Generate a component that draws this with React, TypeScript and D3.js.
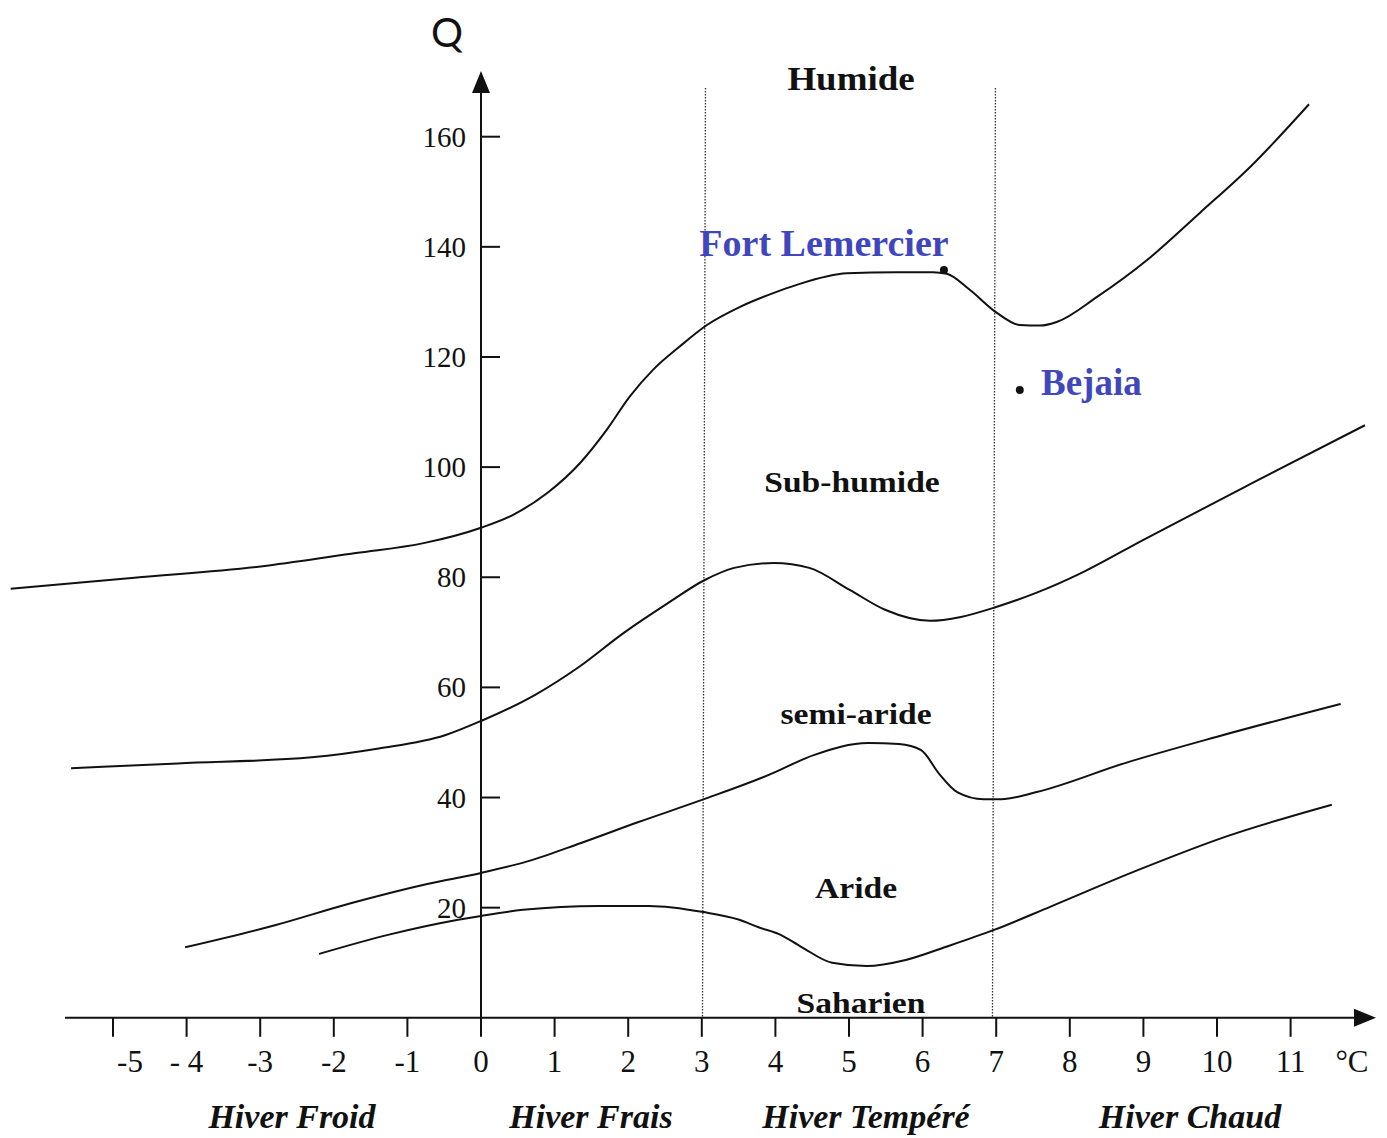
import React from "react";
import * as d3 from "d3";

// ---- Data (T = mean min temp of coldest month °C, Q = Emberger quotient) ----
const humideLimit: [number, number][] = [
  [-6.39, 77.9], [-4.71, 79.9], [-2.91, 82.1], [-1.7, 84.4], [-0.78, 86.2], [0, 89.0],
  [0.43, 91.3], [0.9, 95.3], [1.35, 100.8], [1.71, 106.8], [2.02, 112.8], [2.34, 117.7],
  [2.7, 121.9], [3.07, 125.8], [3.52, 129.1], [3.97, 131.6], [4.29, 133.1], [4.97, 135.2],
  [5.65, 135.4], [6.14, 135.4], [6.33, 135.1], [6.64, 132.2], [7.01, 128.0], [7.32, 125.8],
  [7.6, 125.7], [7.83, 126.4], [8.37, 130.9], [9.05, 137.6], [9.77, 146.2], [10.45, 154.5],
  [11.25, 165.9],
];
const subHumideLimit: [number, number][] = [
  [-5.57, 45.3], [-4.12, 46.2], [-2.3, 47.3], [-1.39, 48.9], [-0.49, 51.3], [0, 53.9],
  [0.73, 58.6], [1.33, 63.7], [1.94, 69.9], [2.54, 75.3], [3.04, 79.5], [3.44, 81.7],
  [3.98, 82.6], [4.46, 81.7], [5.01, 77.7], [5.49, 74.1], [6.1, 72.1], [6.52, 72.8],
  [7.0, 74.6], [7.55, 77.2], [8.16, 80.8], [9.0, 86.8], [10.45, 96.9], [12.01, 107.6],
];
const semiArideLimit: [number, number][] = [
  [-4.02, 12.8], [-2.8, 16.8], [-1.77, 20.8], [-0.73, 24.3], [0, 26.3], [0.63, 28.4],
  [1.35, 31.7], [2.13, 35.5], [3.03, 39.7], [3.91, 44.1], [4.52, 47.7], [5.26, 49.9],
  [5.68, 49.7], [5.98, 48.6], [6.22, 44.4], [6.47, 41.0], [6.83, 39.7], [7.07, 39.7],
  [7.55, 41.0], [8.76, 46.3], [9.99, 51.0], [11.68, 57.0],
];
const arideLimit: [number, number][] = [
  [-2.2, 11.6], [-1.25, 15.1], [-0.31, 17.8], [0, 18.5], [0.57, 19.6], [1.6, 20.3],
  [2.28, 20.3], [3.02, 19.2], [3.51, 17.8], [3.78, 16.4], [4.05, 15.2], [4.35, 12.9],
  [4.77, 10.0], [5.24, 9.4], [5.77, 10.5], [6.32, 12.9], [6.98, 16.0], [7.74, 20.2],
  [8.94, 26.9], [10.12, 32.9], [11.56, 38.7],
];
const limits = [humideLimit, subHumideLimit, semiArideLimit, arideLimit];

const winterBounds = [3.05, 6.99];
const xTicks = [-5, -4, -3, -2, -1, 0, 1, 2, 3, 4, 5, 6, 7, 8, 9, 10, 11];
const xTickLabels = ["-5", "- 4", "-3", "-2", "-1", "0", "1", "2", "3", "4", "5", "6", "7", "8", "9", "10", "11"];
const yTicks = [20, 40, 60, 80, 100, 120, 140, 160];

const zoneNames = ["Humide", "Sub-humide", "semi-aride", "Aride", "Saharien"];
const winterNames = ["Hiver Froid", "Hiver Frais", "Hiver Tempéré", "Hiver Chaud"];
const stationNames = ["Fort Lemercier", "Bejaia"];
const stationT = [6.29, 7.32];
const stationQ = [135.8, 114.0];

// ---- Layout ----
const W = 1387;
const H = 1138;
const x = d3.scaleLinear().domain([-5, 11]).range([113, 1290.6]);
const y = d3.scaleLinear().domain([0, 160]).range([1017.8, 136.7]);

const zonePos = [
  { cx: 851, by: 90, size: 33 },
  { cx: 852, by: 492, size: 30 },
  { cx: 856, by: 724, size: 30 },
  { cx: 856, by: 898, size: 30 },
  { cx: 861, by: 1013, size: 30 },
];
const winterPos = [292, 591, 866, 1190];
const stationLabelPos = [
  { x: 824, y: 256, anchor: "middle" },
  { x: 1041, y: 395, anchor: "start" },
];

const serif = "'Liberation Serif', 'Times New Roman', serif";
const blue = "#4047bd";

export default function App() {
  const line = d3
    .line<[number, number]>()
    .x((d) => x(d[0]))
    .y((d) => y(d[1]))
    .curve(d3.curveMonotoneX);

  const x0 = x(0);
  const yAxisY = y(0);

  return (
    <svg
      width={W}
      height={H}
      style={{ position: "absolute", left: 0, top: 0, background: "#fff" }}
      fontFamily={serif}
    >
      <rect width={W} height={H} fill="#fff" />

      {/* dotted winter boundaries */}
      {winterBounds.map((t, i) => (
        <line
          key={"wb" + i}
          x1={x(t)}
          x2={x(t) - 3}
          y1={88}
          y2={yAxisY}
          stroke="#333"
          strokeWidth={1.3}
          strokeDasharray="1.5,1.5"
        />
      ))}

      {/* x axis */}
      <line x1={65} x2={1360} y1={yAxisY} y2={yAxisY} stroke="#111" strokeWidth={2} />
      <path d={`M1376,${yAxisY} L1354,${yAxisY - 9} L1354,${yAxisY + 9} Z`} fill="#111" />
      {xTicks.map((t, i) => (
        <g key={"xt" + i}>
          <line x1={x(t)} x2={x(t)} y1={yAxisY} y2={yAxisY + 19} stroke="#111" strokeWidth={2} />
          <text
            x={x(t) + (t === -5 ? 17 : 0)}
            y={1072}
            fontSize={31}
            textAnchor="middle"
            fill="#111"
          >
            {xTickLabels[i]}
          </text>
        </g>
      ))}
      <text x={1352} y={1072} fontSize={31} textAnchor="middle" fill="#111">
        °C
      </text>

      {/* y axis */}
      <line x1={x0} x2={x0} y1={yAxisY + 18} y2={90} stroke="#111" strokeWidth={2} />
      <path d={`M${x0},71 L${x0 - 9},93 L${x0 + 9},93 Z`} fill="#111" />
      {yTicks.map((q) => (
        <g key={"yt" + q}>
          <line x1={x0} x2={x0 + 19} y1={y(q)} y2={y(q)} stroke="#111" strokeWidth={2} />
          <text x={466} y={y(q) + 10} fontSize={29} textAnchor="end" fill="#111">
            {q}
          </text>
        </g>
      ))}
      <text x={447} y={47} fontSize={40} textAnchor="middle" fontFamily="Lato, 'Open Sans', sans-serif" fill="#111">
        Q
      </text>

      {/* climate limits */}
      {limits.map((pts, i) => (
        <path key={"lim" + i} d={line(pts) || ""} fill="none" stroke="#111" strokeWidth={2} />
      ))}

      {/* zone names (horizontally widened like the original typeface) */}
      {zoneNames.map((n, i) => (
        <text
          key={"zn" + i}
          transform={`translate(${zonePos[i].cx},${zonePos[i].by}) scale(1.12,1)`}
          fontSize={zonePos[i].size}
          fontWeight="bold"
          textAnchor="middle"
          fill="#111"
        >
          {n}
        </text>
      ))}

      {/* winter names */}
      {winterNames.map((n, i) => (
        <text
          key={"wn" + i}
          x={winterPos[i]}
          y={1128}
          fontSize={34}
          fontStyle="italic"
          fontWeight="bold"
          textAnchor="middle"
          fill="#111"
        >
          {n}
        </text>
      ))}

      {/* stations */}
      {stationNames.map((n, i) => (
        <g key={"st" + i}>
          <circle cx={x(stationT[i])} cy={y(stationQ[i])} r={4} fill="#111" />
          <text
            x={stationLabelPos[i].x}
            y={stationLabelPos[i].y}
            fontSize={i === 0 ? 38 : 37}
            fontWeight="bold"
            textAnchor={stationLabelPos[i].anchor as any}
            fill={blue}
          >
            {n}
          </text>
        </g>
      ))}
    </svg>
  );
}
